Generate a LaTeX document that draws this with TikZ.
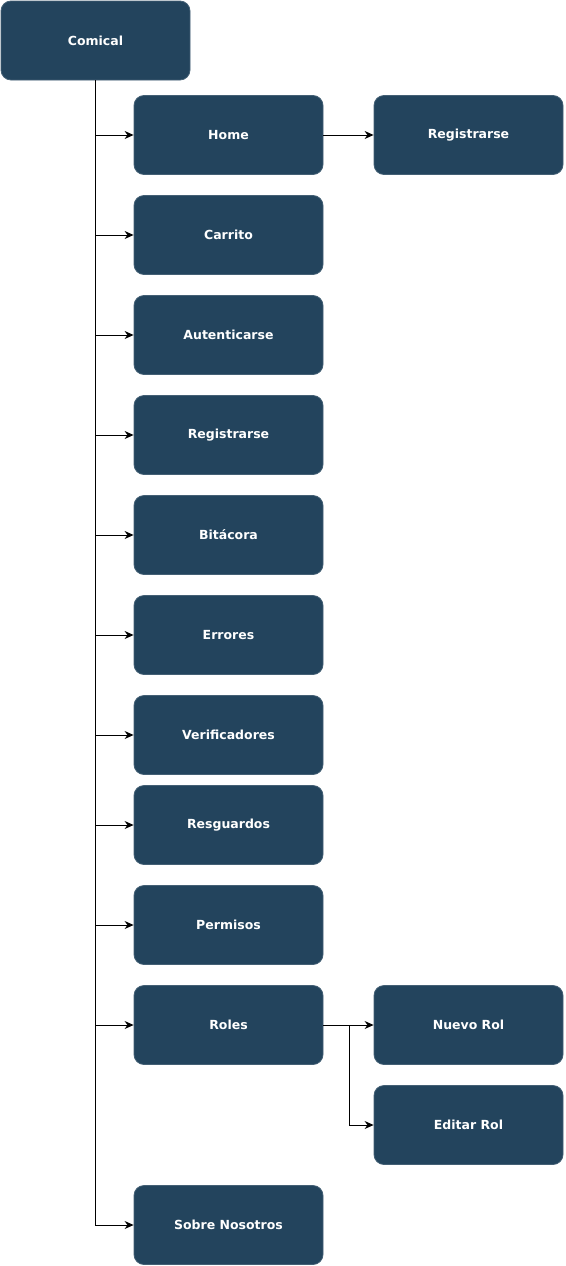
\documentclass[tikz,border=0pt]{standalone}
\usepackage{fontspec}
\setmainfont{DejaVu Sans}
\usetikzlibrary{arrows.meta}
\definecolor{boxblue}{HTML}{23445D}
\tikzset{menubox/.style={draw=boxblue!85!white, fill=boxblue, rounded corners=10pt, minimum width=189pt, minimum height=79pt, text=white, font=\fontsize{12.5}{15}\selectfont\bfseries, line width=0.8pt},
         link/.style={black, line width=1pt, -{Stealth[length=9pt,width=8pt]}}}

\begin{document}
\begin{tikzpicture}[x=1pt,y=-1pt]
       \useasboundingbox (0,0) rectangle (565,1266);
        % root
        \node[menubox] (comical) at (95.5,40.5) {Comical};
        % first level
        \node[menubox] (home)   at (228.5, 135) {Home};
        \node[menubox] (carrito) at (228.5, 235) {Carrito};
        \node[menubox] (auth)   at (228.5, 335) {Autenticarse};
        \node[menubox] (reg)    at (228.5, 435) {Registrarse};
        \node[menubox] (bitac)  at (228.5, 535) {Bitácora};
        \node[menubox] (errores) at (228.5, 635) {Errores};
        \node[menubox] (verif)  at (228.5, 735) {Verificadores};
        \node[menubox] (resg)   at (228.5, 825) {Resguardos};
        \node[menubox] (perm)   at (228.5, 925) {Permisos};
        \node[menubox] (roles)  at (228.5,1025) {Roles};
        \node[menubox] (sobre)  at (228.5,1225) {Sobre Nosotros};
        % second level
        \node[menubox] (homereg) at (468.5, 135) {Registrarse};
        \node[menubox] (nuevo)  at (468.5,1025) {Nuevo Rol};
        \node[menubox] (editar) at (468.5,1125) {Editar Rol};
        \coordinate (split) at (349,1025);
        % connectors
        \foreach \child in {home,carrito,auth,reg,bitac,errores,verif,resg,perm,roles,sobre}
          \draw[link] (comical.south) |- (\child.west);
        \draw[link] (home) -- (homereg);
        \draw[link] (roles) -- (nuevo);
        \draw[link] (roles.east) -- (split) |- (editar.west);
      \end{tikzpicture}
\end{document}
